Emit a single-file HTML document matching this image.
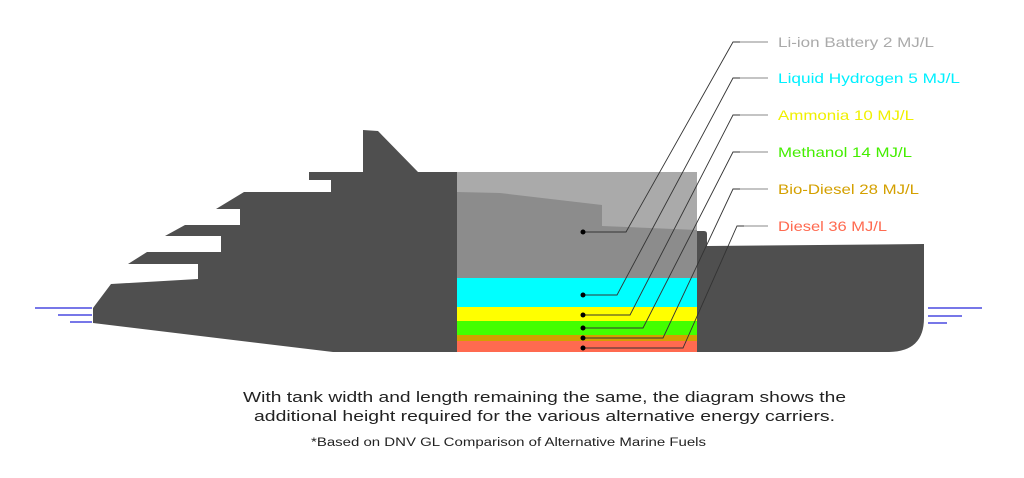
<!DOCTYPE html>
<html><head><meta charset="utf-8"><style>
html,body{margin:0;padding:0;background:#fff;}
svg{display:block;}
text{font-family:"Liberation Sans",sans-serif;}
</style></head><body>
<svg width="1024" height="478" viewBox="0 0 1024 478" xmlns="http://www.w3.org/2000/svg">
<!-- water lines -->
<g stroke="#4a4ae0" stroke-width="1.6">
<line x1="35" y1="308" x2="92" y2="308"/><line x1="58" y1="315" x2="92" y2="315"/><line x1="70" y1="322" x2="92" y2="322"/>
<line x1="928" y1="308" x2="982" y2="308"/><line x1="928" y1="316" x2="962" y2="316"/><line x1="928" y1="323" x2="947" y2="323"/>
</g>
<!-- front hull -->
<polygon fill="#4f4f4f" points="363,130 378,131 418,172 457,172 457,352 333,352 93,323 93,308 111,284 198,279 198,264 128,264 147,252 221,252 221,236 165,236 185,225 240,225 240,209 216,209 244,192 331,192 331,180 309,180 309,172 363,172"/>
<!-- rear hull -->
<path fill="#4f4f4f" d="M697,231 L704,231 Q707,231 707,234 L707,246 L924,244 L924,318 Q924,352 888,352 L697,352 Z"/>
<!-- tank -->
<rect x="457" y="172" width="240" height="106" fill="#aaaaaa"/>
<polygon fill="#8c8c8c" points="457,192 500,193 602,205 602,226 697,230 697,278 457,278"/>
<rect x="457" y="278" width="240" height="29" fill="#00ffff"/>
<rect x="457" y="307" width="240" height="14" fill="#ffff00"/>
<rect x="457" y="321" width="240" height="14" fill="#44ff00"/>
<rect x="457" y="335" width="240" height="6" fill="#d4a000"/>
<rect x="457" y="341" width="240" height="11" fill="#ff6a50"/>
<!-- leaders -->
<g fill="none" stroke="#333" stroke-width="0.9">
<polyline points="583,232 626,232 733,42 768,42"/>
<polyline points="583,295 617,295 733,78 768,78"/>
<polyline points="583,315 630,315 733,115 768,115"/>
<polyline points="583,328 643,328 733,152 768,152"/>
<polyline points="583,338 663,338 733,189 768,189"/>
<polyline points="583,348 683,348 737,226 768,226"/>
</g>
<g stroke="#888" stroke-width="1">
<line x1="740" y1="42" x2="768" y2="42"/><line x1="740" y1="78" x2="768" y2="78"/><line x1="740" y1="115" x2="768" y2="115"/><line x1="740" y1="152" x2="768" y2="152"/><line x1="740" y1="189" x2="768" y2="189"/><line x1="744" y1="226" x2="768" y2="226"/>
</g>
<g fill="#000">
<circle cx="583" cy="232" r="2.5"/><circle cx="583" cy="295" r="2.5"/><circle cx="583" cy="315" r="2.5"/><circle cx="583" cy="328" r="2.5"/><circle cx="583" cy="338" r="2.5"/><circle cx="583" cy="348" r="2.5"/>
</g>
<!-- labels -->
<g font-size="14">
<text x="778" y="47" fill="#aaaaaa" textLength="156" lengthAdjust="spacingAndGlyphs">Li-ion Battery 2 MJ/L</text>
<text x="778" y="83" fill="#00f0ff" textLength="182" lengthAdjust="spacingAndGlyphs">Liquid Hydrogen 5 MJ/L</text>
<text x="778" y="120" fill="#f0f000" textLength="136" lengthAdjust="spacingAndGlyphs">Ammonia 10 MJ/L</text>
<text x="778" y="157" fill="#44ee00" textLength="134" lengthAdjust="spacingAndGlyphs">Methanol 14 MJ/L</text>
<text x="778" y="194" fill="#d4a000" textLength="141" lengthAdjust="spacingAndGlyphs">Bio-Diesel 28 MJ/L</text>
<text x="778" y="231" fill="#ff6a50" textLength="109" lengthAdjust="spacingAndGlyphs">Diesel 36 MJ/L</text>
</g>
<g fill="#222">
<text x="243" y="402" font-size="15" textLength="603" lengthAdjust="spacingAndGlyphs">With tank width and length remaining the same, the diagram shows the</text>
<text x="254" y="421" font-size="15" textLength="581" lengthAdjust="spacingAndGlyphs">additional height required for the various alternative energy carriers.</text>
<text x="311" y="446" font-size="11.5" textLength="395" lengthAdjust="spacingAndGlyphs">*Based on DNV GL  Comparison of Alternative Marine Fuels</text>
</g>
</svg>
</body></html>
